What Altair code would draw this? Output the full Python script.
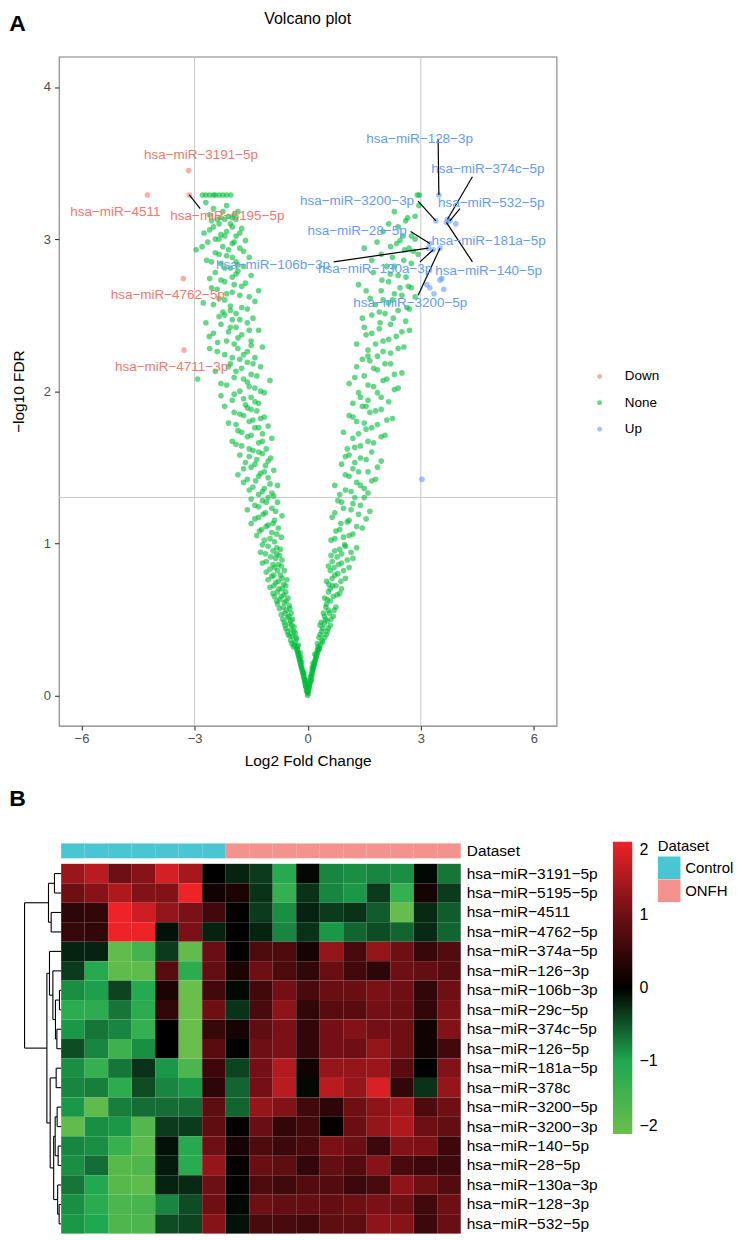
import altair as alt
import pandas as pd

MINUS = "\u2212"


def disp(s):
    return s.replace("-", MINUS)


# ------------------------------------------------------------------
# A. Volcano plot data (log2 fold change, -log10 FDR)
# ------------------------------------------------------------------
none_points = [
    (0.00, 0.00), (0.01, 0.01), (-0.01, 0.02), (0.02, 0.03), (-0.03, 0.03), (0.03, 0.05), (-0.04, 0.05),
    (0.05, 0.06), (-0.06, 0.07), (0.06, 0.08), (-0.07, 0.09), (0.08, 0.10), (-0.09, 0.11), (0.09, 0.12),
    (-0.11, 0.12), (0.11, 0.13), (-0.12, 0.14), (0.13, 0.15), (-0.14, 0.16), (0.14, 0.17), (-0.16, 0.18),
    (0.16, 0.19), (-0.18, 0.20), (0.18, 0.21), (-0.20, 0.22), (0.20, 0.23), (-0.22, 0.24), (0.23, 0.25),
    (-0.24, 0.26), (0.25, 0.27), (-0.26, 0.28), (0.27, 0.29), (-0.18, 0.25), (0.19, 0.27), (-0.10, 0.15),
    (0.12, 0.18), (-0.28, 0.30), (0.30, 0.30), (-0.05, 0.10), (0.07, 0.12),
    (-0.30, 0.31), (-0.38, 0.32), (-0.25, 0.33), (-0.34, 0.35), (-0.45, 0.36), (-0.29, 0.37), (-0.40, 0.39),
    (-0.52, 0.40), (-0.33, 0.41), (-0.44, 0.43), (-0.58, 0.44), (-0.36, 0.45), (-0.48, 0.47), (-0.62, 0.48),
    (-0.40, 0.50), (-0.53, 0.51), (-0.70, 0.53), (-0.44, 0.54), (-0.57, 0.56), (-0.75, 0.57), (-0.49, 0.59),
    (0.31, 0.31), (0.26, 0.34), (0.38, 0.36), (0.45, 0.38), (0.33, 0.40), (0.52, 0.42), (0.40, 0.44),
    (0.60, 0.46), (0.36, 0.48), (0.47, 0.50), (0.68, 0.52), (0.42, 0.54), (0.55, 0.56), (0.75, 0.58),
    (0.50, 0.60),
    (-0.62, 0.61), (-0.82, 0.62), (-0.52, 0.64), (-0.70, 0.65), (-0.92, 0.67), (-0.58, 0.68), (-0.76, 0.70),
    (-1.00, 0.71), (-0.64, 0.73), (-0.85, 0.74), (-0.55, 0.76), (-0.95, 0.78), (-0.72, 0.79), (-1.10, 0.81),
    (-0.62, 0.82), (-0.88, 0.84), (-0.78, 0.86), (-1.20, 0.87), (-0.68, 0.89), (-0.98, 0.91), (-0.82, 0.93),
    (-1.25, 0.94), (-0.72, 0.96), (-1.05, 0.98),
    (0.60, 0.62), (0.45, 0.64), (0.78, 0.66), (0.55, 0.68), (0.90, 0.70), (0.66, 0.72), (0.50, 0.75),
    (1.00, 0.77), (0.72, 0.79), (0.60, 0.82), (1.10, 0.84), (0.82, 0.86), (0.65, 0.88), (1.20, 0.90),
    (0.90, 0.93), (0.72, 0.95), (1.30, 0.97), (0.98, 0.99),
    (-0.88, 1.01), (-1.15, 1.02), (-0.70, 1.04), (-1.35, 1.05), (-0.95, 1.07), (-1.22, 1.09), (-0.78, 1.10),
    (-1.05, 1.12), (-1.50, 1.13), (-0.88, 1.15), (-1.30, 1.17), (-0.68, 1.18), (-1.12, 1.20), (-1.60, 1.22),
    (-0.95, 1.23), (-1.40, 1.25), (-0.80, 1.27), (-1.20, 1.28), (-1.05, 1.30),
    (0.62, 1.02), (0.95, 1.04), (1.20, 1.06), (0.75, 1.08), (1.45, 1.10), (0.88, 1.13), (1.10, 1.15),
    (0.65, 1.17), (1.35, 1.19), (1.65, 1.21), (0.95, 1.23), (1.20, 1.26), (0.80, 1.28), (1.50, 1.30),
    (-1.30, 1.32), (-0.95, 1.33), (-1.55, 1.35), (-1.15, 1.36), (-0.80, 1.38), (-1.70, 1.40), (-1.38, 1.41),
    (-1.05, 1.43), (-1.85, 1.45), (-1.25, 1.46), (-0.90, 1.48), (-1.50, 1.50), (-1.12, 1.51), (-1.65, 1.53),
    (-1.35, 1.55), (-0.98, 1.56), (-1.80, 1.58), (-1.20, 1.59),
    (0.85, 1.32), (1.15, 1.34), (1.50, 1.36), (0.72, 1.38), (1.30, 1.40), (1.80, 1.42), (1.00, 1.45),
    (1.60, 1.47), (1.20, 1.49), (0.90, 1.52), (1.95, 1.54), (1.40, 1.56), (1.10, 1.58), (1.70, 1.60),
    (-1.45, 1.61), (-1.10, 1.62), (-1.75, 1.64), (-1.30, 1.66), (-2.00, 1.67), (-0.95, 1.69), (-1.60, 1.70),
    (-1.20, 1.72), (-1.85, 1.74), (-1.40, 1.76), (-1.05, 1.77), (-2.10, 1.79), (-1.55, 1.80), (-1.25, 1.82),
    (-1.70, 1.84), (-1.95, 1.86), (-1.35, 1.87), (-1.60, 1.89),
    (1.05, 1.62), (1.40, 1.64), (1.75, 1.66), (1.20, 1.69), (2.05, 1.71), (0.95, 1.73), (1.55, 1.75),
    (1.85, 1.78), (1.30, 1.80), (2.25, 1.82), (1.10, 1.84), (1.65, 1.86), (1.95, 1.88), (1.45, 1.90),
    (-1.65, 1.91), (-1.30, 1.92), (-2.00, 1.94), (-1.50, 1.96), (-2.30, 1.97), (-1.15, 1.99), (-1.80, 2.00),
    (-1.40, 2.02), (-2.15, 2.04), (-1.60, 2.06), (-1.00, 2.07), (-1.95, 2.09), (-2.92, 2.08), (-1.50, 2.11),
    (-2.45, 2.13), (-1.75, 2.15), (-1.25, 2.16), (-2.05, 2.18), (-1.60, 2.19),
    (1.20, 1.92), (1.60, 1.94), (1.95, 1.96), (1.35, 1.99), (2.30, 2.01), (1.75, 2.03), (1.10, 2.05),
    (2.10, 2.08), (1.50, 2.10), (2.50, 2.12), (1.85, 2.14), (1.30, 2.16), (2.20, 2.18), (1.65, 2.20),
    (-1.80, 2.21), (-1.40, 2.22), (-2.20, 2.24), (-1.60, 2.26), (-2.60, 2.28), (-1.20, 2.29), (-1.95, 2.31),
    (-2.39, 2.32), (-1.50, 2.33), (-2.61, 2.36), (-1.75, 2.37), (-2.10, 2.39), (-1.30, 2.40), (-1.90, 2.42),
    (-2.30, 2.44), (-1.60, 2.45), (-2.00, 2.47), (-1.45, 2.48), (-2.20, 2.50),
    (1.45, 2.21), (1.85, 2.23), (2.20, 2.25), (1.60, 2.27), (2.55, 2.29), (1.30, 2.31), (2.00, 2.33),
    (2.35, 2.36), (1.70, 2.38), (2.70, 2.40), (1.50, 2.42), (1.92, 2.45), (2.27, 2.48), (1.70, 2.50),
    (-1.90, 2.51), (-2.25, 2.52), (-1.60, 2.54), (-2.05, 2.56), (-2.77, 2.58), (-1.40, 2.59), (-2.35, 2.61),
    (-1.80, 2.63), (-2.15, 2.64), (-1.30, 2.66), (-2.55, 2.68), (-1.95, 2.70), (-1.65, 2.71), (-2.30, 2.73),
    (-2.00, 2.75), (-1.50, 2.76), (-2.45, 2.78), (-1.85, 2.79),
    (2.14, 2.58), (1.66, 2.61), (2.63, 2.55), (1.90, 2.52), (2.40, 2.53), (1.35, 2.70), (1.74, 2.78),
    (1.97, 2.73), (2.19, 2.77), (2.61, 2.75), (2.45, 2.68), (2.67, 2.69), (2.85, 2.62), (1.55, 2.66),
    (2.30, 2.64), (2.00, 2.60),
    (-2.05, 2.81), (-1.70, 2.82), (-2.30, 2.84), (-1.90, 2.85), (-2.68, 2.86), (-1.55, 2.88), (-2.15, 2.89),
    (-2.45, 2.91), (-2.96, 2.93), (-1.80, 2.94), (-2.25, 2.95), (-2.00, 2.97), (-2.65, 2.98), (-1.65, 2.99),
    (-2.35, 3.00), (-1.90, 3.02), (-2.75, 3.04), (-2.15, 3.05), (-1.75, 3.07), (-2.50, 3.08), (-2.05, 3.10),
    (1.84, 2.98), (2.36, 2.97), (1.50, 2.94), (2.57, 2.93), (2.69, 2.94), (2.53, 3.02), (2.93, 2.90),
    (2.10, 2.82), (2.75, 2.84), (1.70, 2.86), (2.25, 2.88), (2.85, 3.00), (2.00, 3.05), (2.40, 3.08),
    (-2.40, 3.13), (-2.30, 3.14), (-2.20, 3.13), (-2.10, 3.15), (-2.00, 3.14), (-1.90, 3.13), (-2.60, 3.16),
    (-1.85, 3.18), (-2.50, 3.20), (-2.15, 3.22), (-2.70, 3.24), (-2.30, 3.03),
    (-2.79, 3.29), (-2.70, 3.29), (-2.60, 3.29), (-2.50, 3.29), (-2.45, 3.29), (-2.35, 3.29), (-2.25, 3.29),
    (-2.15, 3.29), (-2.04, 3.29),
    (2.60, 3.12), (2.85, 3.15), (2.30, 3.18), (2.95, 3.22), (2.91, 3.29), (2.96, 3.29),
]
# further non-significant miRNAs read from the denser parts of the cloud
none_points_more = [
    (0.00, 0.02), (-0.02, 0.04), (0.03, 0.04), (-0.05, 0.06), (0.04, 0.07), (-0.07, 0.08), (0.07, 0.09),
    (-0.08, 0.10), (0.10, 0.10), (-0.10, 0.13), (0.10, 0.14), (-0.13, 0.15), (0.12, 0.16), (-0.15, 0.17),
    (0.15, 0.18), (-0.17, 0.19), (0.17, 0.20), (-0.19, 0.21), (0.19, 0.22), (-0.21, 0.23), (0.21, 0.24),
    (-0.23, 0.25), (0.22, 0.26), (-0.25, 0.27), (0.24, 0.28), (-0.27, 0.29), (0.26, 0.30), (-0.16, 0.22),
    (0.14, 0.21), (-0.20, 0.28),
    (-0.27, 0.32), (-0.35, 0.33), (-0.42, 0.34), (-0.31, 0.38), (-0.47, 0.39), (-0.37, 0.42), (-0.54, 0.42),
    (-0.42, 0.46), (-0.60, 0.46), (-0.45, 0.49), (-0.66, 0.50), (-0.50, 0.52), (-0.60, 0.54), (-0.47, 0.57),
    (-0.65, 0.58), (-0.80, 0.60),
    (0.28, 0.32), (0.34, 0.33), (0.40, 0.35), (0.30, 0.38), (0.49, 0.40), (0.37, 0.42), (0.55, 0.44),
    (0.44, 0.47), (0.33, 0.46), (0.52, 0.49), (0.62, 0.50), (0.45, 0.52), (0.58, 0.54), (0.70, 0.56),
    (0.48, 0.58),
    (-0.57, 0.62), (-0.74, 0.63), (-0.88, 0.65), (-0.63, 0.66), (-0.80, 0.68), (-0.68, 0.70), (-0.90, 0.72),
    (-0.58, 0.72), (-0.78, 0.75), (-1.05, 0.76), (-0.68, 0.77), (-0.90, 0.79), (-0.80, 0.82), (-1.00, 0.83),
    (-0.70, 0.85), (-0.92, 0.86), (-1.10, 0.88), (-0.85, 0.90), (-0.75, 0.92), (-1.12, 0.93), (-0.92, 0.95),
    (-0.82, 0.97), (-1.20, 0.99),
    (0.52, 0.63), (0.68, 0.65), (0.85, 0.67), (0.60, 0.70), (0.75, 0.72), (0.56, 0.73), (0.88, 0.75),
    (0.65, 0.77), (0.80, 0.80), (0.95, 0.82), (0.70, 0.84), (0.55, 0.85), (0.90, 0.87), (1.05, 0.89),
    (0.78, 0.91), (0.62, 0.92), (1.15, 0.94), (0.85, 0.96), (1.00, 0.98),
    (-1.00, 1.03), (-0.82, 1.06), (-1.28, 1.08), (-1.10, 1.11), (-0.92, 1.13), (-1.40, 1.16), (-1.18, 1.19),
    (-0.85, 1.21), (-1.30, 1.24), (-1.10, 1.27), (-1.50, 1.29), (-0.90, 1.31), (-1.20, 1.34), (-1.45, 1.37),
    (-1.00, 1.39), (-1.60, 1.42), (-1.30, 1.44), (-1.15, 1.47), (-1.70, 1.49), (-1.40, 1.52), (-1.05, 1.54),
    (-1.55, 1.57), (-1.30, 1.60),
    (0.72, 1.03), (1.10, 1.05), (0.85, 1.09), (1.30, 1.11), (1.05, 1.14), (1.55, 1.16), (0.72, 1.20),
    (1.15, 1.22), (1.40, 1.25), (0.90, 1.27), (1.25, 1.30), (1.60, 1.33), (1.00, 1.35), (1.40, 1.38),
    (1.70, 1.41), (1.10, 1.44), (1.35, 1.47), (1.85, 1.50), (1.25, 1.53), (1.55, 1.55), (1.00, 1.57),
    (-1.55, 1.62), (-1.90, 1.65), (-1.20, 1.67), (-1.50, 1.71), (-1.75, 1.73), (-1.30, 1.76), (-1.90, 1.78),
    (-1.45, 1.81), (-1.15, 1.83), (-1.80, 1.85), (-1.50, 1.88), (-2.20, 1.90), (-1.40, 1.93), (-1.70, 1.95),
    (-1.95, 1.98), (-1.25, 2.00), (-1.55, 2.03), (-2.30, 2.05), (-1.70, 2.08), (-1.35, 2.10), (-1.90, 2.13),
    (-2.10, 2.16), (-1.45, 2.18),
    (1.25, 1.63), (1.60, 1.67), (1.95, 1.70), (1.35, 1.72), (1.70, 1.76), (1.50, 1.79), (2.10, 1.81),
    (1.20, 1.83), (1.80, 1.87), (1.55, 1.90), (2.15, 1.93), (1.40, 1.96), (1.85, 1.99), (2.40, 2.02),
    (1.60, 2.04), (2.00, 2.07), (1.25, 2.09), (2.30, 2.11), (1.75, 2.15), (2.05, 2.18),
    (-2.00, 2.22), (-1.70, 2.24), (-2.40, 2.26), (-1.85, 2.28), (-1.50, 2.30), (-2.15, 2.33), (-1.85, 2.35),
    (-2.50, 2.38), (-1.55, 2.40), (-2.05, 2.42), (-2.70, 2.45), (-1.80, 2.47), (-2.35, 2.49), (-2.05, 2.53),
    (-1.75, 2.55), (-2.50, 2.57), (-2.20, 2.60), (-1.55, 2.62), (-2.00, 2.65), (-2.40, 2.67), (-1.75, 2.69),
    (-2.20, 2.72), (-2.60, 2.74), (-1.90, 2.77),
    (1.60, 2.23), (2.00, 2.26), (2.40, 2.28), (1.80, 2.31), (2.15, 2.34), (1.55, 2.37), (2.50, 2.39),
    (1.90, 2.41), (2.20, 2.44), (2.60, 2.46), (1.45, 2.48), (2.05, 2.51), (2.70, 2.54), (1.80, 2.57),
    (2.25, 2.60), (2.50, 2.63), (1.95, 2.66), (2.75, 2.68), (2.15, 2.72), (2.40, 2.76),
    (-2.20, 2.81), (-1.85, 2.83), (-2.55, 2.85), (-2.00, 2.88), (-2.35, 2.90), (-1.70, 2.92), (-2.10, 2.93),
    (-2.80, 2.95), (-1.95, 2.98), (-2.45, 3.00), (-2.20, 3.02), (-1.80, 3.04), (-2.60, 3.06), (-2.00, 3.08),
    (-2.35, 3.10), (-2.55, 3.12), (-1.95, 3.16), (-2.25, 3.18),
    (2.30, 2.82), (2.55, 2.86), (1.95, 2.90), (2.80, 2.92), (2.20, 2.95), (2.45, 2.99), (2.75, 3.02),
    (2.15, 3.10), (2.65, 3.14),
]

# labelled significant miRNAs
lab_genes = ["hsa-miR-3191-5p", "hsa-miR-4511", "hsa-miR-5195-5p", "hsa-miR-4762-5p", "hsa-miR-4711-3p",
             "hsa-miR-128-3p", "hsa-miR-374c-5p", "hsa-miR-532-5p", "hsa-miR-3200-3p", "hsa-miR-28-5p",
             "hsa-miR-181a-5p", "hsa-miR-140-5p", "hsa-miR-106b-3p", "hsa-miR-130a-3p", "hsa-miR-3200-5p"]
lab_group = ["Down"] * 5 + ["Up"] * 10
lab_x = [-3.16, -4.25, -3.14, -3.30, -3.28, 3.48, 3.71, 3.77, 3.40, 3.24, 3.93, 3.68, 3.20, 3.33, 3.51]
lab_y = [3.45, 3.29, 3.29, 2.74, 2.27, 3.29, 3.13, 3.12, 3.12, 2.97, 3.10, 3.11, 2.94, 2.93, 2.94]
# repelled label anchors (data units)
txt_x = [-2.83, -5.10, -2.13, -3.71, -3.61, 2.97, 4.78, 4.87, 1.31, 1.31, 4.80, 4.80, -0.92, 1.79, 2.72]
txt_y = [3.55, 3.18, 3.15, 2.63, 2.16, 3.66, 3.46, 3.24, 3.25, 3.05, 2.99, 2.79, 2.83, 2.80, 2.58]
# connector ends (None = no connector)
seg_x = [None, None, -2.85, None, None, 3.46, 4.37, 4.04, 2.93, 2.73, None, 4.37, 0.69, 2.98, 2.93]
seg_y = [None, None, 3.20, None, None, 3.66, 3.41, 3.20, 3.25, 3.05, None, 2.85, 2.85, 2.85, 2.63]

# other up-regulated, unlabelled
up_x = [3.16, 3.24, 3.35, 3.51, 3.61, 3.56, 3.03]
up_y = [2.70, 2.68, 2.64, 2.73, 2.67, 2.74, 1.42]

groups = ["Down", "None", "Up"]
group_colors = ["#F8766D", "#00BA38", "#619CFF"]
fc_cut = [-3, 3]
fdr_cut = [1.301]

# ------------------------------------------------------------------
# B. Heatmap data
# ------------------------------------------------------------------
row_genes = ["hsa-miR-3191-5p", "hsa-miR-5195-5p", "hsa-miR-4511", "hsa-miR-4762-5p", "hsa-miR-374a-5p",
             "hsa-miR-126-3p", "hsa-miR-106b-3p", "hsa-miR-29c-5p", "hsa-miR-374c-5p", "hsa-miR-126-5p",
             "hsa-miR-181a-5p", "hsa-miR-378c", "hsa-miR-3200-5p", "hsa-miR-3200-3p", "hsa-miR-140-5p",
             "hsa-miR-28-5p", "hsa-miR-130a-3p", "hsa-miR-128-3p", "hsa-miR-532-5p"]
sample_group = ["Control"] * 7 + ["ONFH"] * 10
z = [
    [1.35, 1.6, 1.0, 1.2, 1.8, 1.45, 0.0, -0.2, -0.35, -1.1, -0.05, -0.8, -0.85, -0.8, -0.85, -0.05, -0.7],
    [1.0, 1.2, 1.5, 1.15, 1.15, 2.0, 0.15, 0.25, -0.3, -1.3, -0.3, -0.8, -0.9, -0.35, -1.3, 0.2, -0.35],
    [0.4, 0.45, 2.0, 1.75, 1.3, 1.1, 0.6, 0.0, -0.35, -0.85, -0.2, -0.35, -0.3, -0.55, -1.95, -0.25, -0.55],
    [0.5, 0.45, 2.0, 2.0, -0.1, 1.1, -0.2, 0.0, -0.2, -0.8, -0.3, -0.9, -0.6, -0.45, -0.6, -0.25, -0.6],
    [-0.2, -0.2, -1.9, -1.5, -0.35, -1.9, 0.95, 0.0, 0.7, 0.7, 0.2, 1.3, 0.65, 1.3, 1.0, 0.5, 0.75],
    [-0.35, -1.1, -1.85, -1.85, 0.8, -1.2, 0.9, 0.25, 1.0, 0.7, 0.45, 0.95, 0.6, 0.4, 1.0, 0.9, 0.8],
    [-0.85, -0.95, -0.4, -1.1, 0.25, -2.0, 0.6, -0.05, 0.6, 1.05, 0.65, 0.95, 0.95, 1.1, 1.0, 0.45, 1.0],
    [-1.2, -1.2, -0.7, -1.2, 0.45, -2.0, 1.0, -0.3, 0.65, 1.25, 0.45, 0.8, 0.8, 1.05, 0.95, 0.45, 1.1],
    [-0.9, -0.7, -0.8, -1.3, 0.0, -2.0, 0.5, 0.2, 0.85, 1.1, 0.45, 1.05, 1.15, 1.05, 1.0, 0.15, 1.15],
    [-0.45, -0.8, -1.4, -0.85, 0.0, -2.0, 0.8, 0.0, 1.0, 1.1, 0.45, 1.05, 1.0, 1.3, 1.0, 0.15, 0.6],
    [-0.85, -1.3, -0.7, -0.3, -0.9, -1.6, 0.55, -0.4, 1.05, 1.55, 0.15, 1.3, 1.3, 1.35, 0.8, 0.0, 1.15],
    [-0.8, -0.75, -1.2, -0.45, -0.8, -0.9, 0.4, -0.6, 1.05, 1.6, -0.05, 1.6, 1.3, 1.85, 0.45, -0.3, 1.3],
    [-0.9, -1.85, -0.75, -0.65, -0.65, -0.65, 0.85, -0.6, 1.3, 1.15, 0.6, 0.4, 1.0, 1.25, 1.4, 0.7, 1.0],
    [-1.9, -0.85, -0.9, -1.7, -0.35, -0.35, 0.85, 0.05, 0.95, 0.45, 0.6, 0.05, 0.95, 1.3, 1.5, 1.0, 0.9],
    [-0.8, -0.85, -1.35, -1.8, -0.1, -1.1, 1.0, 0.2, 0.7, 0.55, 0.65, 1.1, 0.95, 0.55, 1.15, 1.1, 0.55],
    [-0.85, -0.65, -1.75, -1.65, -0.15, -1.15, 1.3, 0.05, 0.95, 0.85, 0.45, 0.9, 0.75, 1.2, 0.65, 0.55, 0.55],
    [-0.7, -1.05, -1.75, -1.85, -0.2, -0.25, 1.0, 0.0, 0.7, 0.6, 0.75, 0.75, 0.55, 0.65, 1.25, 1.0, 0.75],
    [-0.85, -1.15, -1.6, -1.55, -0.8, -0.45, 1.0, -0.05, 1.0, 0.9, 0.9, 0.9, 1.0, 1.1, 1.0, 0.6, 1.0],
    [-0.9, -1.0, -1.65, -1.6, -0.45, -0.4, 1.2, -0.1, 0.65, 0.65, 0.6, 0.85, 0.85, 1.25, 1.2, 0.55, 0.95],
]
heat_breaks = [-2, -1, 0, 1, 2]
heat_colors = ["#6ABE4B", "#1EA850", "#000000", "#6E0F14", "#ED2328"]
dataset_names = ["Control", "ONFH"]
dataset_colors = ["#4AC6D2", "#F4928D"]

# row dendrogram: (left, right, height); ints = leaves, "nK" = K-th merge
merges = [
    (0, 1, 6.7), (2, 3, 10.0), ("n0", "n1", 12.7),
    (6, 7, 1.7), (8, 9, 4.3), ("n3", "n4", 5.7), (5, "n5", 8.3), (4, "n6", 11.7),
    (10, 11, 5.0), (12, 13, 4.0), (14, 15, 3.0), ("n9", "n10", 6.0), (17, 18, 2.0), (16, "n12", 3.5),
    ("n11", "n13", 7.5), ("n8", "n14", 11.0), ("n7", "n15", 14.3), ("n2", "n16", 36.7),
]

FONT = "Liberation Sans"

# ------------------------------------------------------------------
# Volcano chart
# ------------------------------------------------------------------
pts = [{"x": x, "y": y, "group": "None"} for x, y in none_points + none_points_more]
pts += [{"x": x, "y": y, "group": g} for x, y, g in zip(lab_x, lab_y, lab_group)]
pts += [{"x": x, "y": y, "group": "Up"} for x, y in zip(up_x, up_y)]
pts_df = pd.DataFrame(pts)

col_of = dict(zip(groups, group_colors))
lab_df = pd.DataFrame({"x": txt_x, "y": txt_y, "text": [disp(g) for g in lab_genes],
                       "col": [col_of[g] for g in lab_group]})
seg_df = pd.DataFrame([{"x": a, "y": b, "x2": c, "y2": d}
                       for a, b, c, d in zip(lab_x, lab_y, seg_x, seg_y) if c is not None])

xs = alt.Scale(domain=[-6.6, 6.6], nice=False, zero=False)
ys = alt.Scale(domain=[-0.2, 4.2], nice=False, zero=False)
x_axis = alt.Axis(values=[-6, -3, 0, 3, 6], grid=False, domain=False, tickSize=4.4, tickColor="#333333",
                  tickWidth=1.1, labelColor="#4D4D4D", labelFontSize=13, labelPadding=2.5,
                  title="Log2 Fold Change", titleFontSize=15.5, titleFontWeight="normal",
                  titleColor="#000000", titlePadding=8)
y_axis = alt.Axis(values=[0, 1, 2, 3, 4], grid=False, domain=False, tickSize=4.4, tickColor="#333333",
                  tickWidth=1.1, labelColor="#4D4D4D", labelFontSize=13, labelPadding=4,
                  title=MINUS + "log10 FDR", titleFontSize=15.5, titleFontWeight="normal",
                  titleColor="#000000", titlePadding=17)
X = alt.X("x:Q", scale=xs, axis=x_axis)
Y = alt.Y("y:Q", scale=ys, axis=y_axis)

vlines = alt.Chart(pd.DataFrame({"x": fc_cut})).mark_rule(color="#C8C8C8", strokeWidth=1).encode(x=X)
hline = alt.Chart(pd.DataFrame({"y": fdr_cut})).mark_rule(color="#C8C8C8", strokeWidth=1).encode(y=Y)

points = alt.Chart(pts_df).mark_circle(size=32, opacity=0.6).encode(
    x=X, y=Y,
    color=alt.Color("group:N", scale=alt.Scale(domain=groups, range=group_colors),
                    legend=alt.Legend(orient="none", legendX=535.5, legendY=314.0, title=None,
                                      labelFontSize=13.5, labelColor="#000000", symbolType="circle",
                                      symbolSize=25, symbolOpacity=0.6, symbolStrokeWidth=0,
                                      rowPadding=11.5, labelOffset=18.5, padding=0)),
)
segs = alt.Chart(seg_df).mark_rule(color="#000000", strokeWidth=1.2).encode(
    x=X, y=Y, x2="x2:Q", y2="y2:Q")
labels = alt.Chart(lab_df).mark_text(fontSize=13.5, baseline="middle", align="center").encode(
    x=X, y=Y, text="text:N", color=alt.Color("col:N", scale=None))

letter_a = alt.Chart(pd.DataFrame({"t": ["A"]})).mark_text(
    fontSize=23, fontWeight="bold", align="left", baseline="middle", color="#000000").encode(
    text="t:N", x=alt.value(-49.7), y=alt.value(-32.7))
title_a = alt.Chart(pd.DataFrame({"t": ["Volcano plot"]})).mark_text(
    fontSize=16, align="center", baseline="middle", color="#000000").encode(
    text="t:N", x=alt.value(249.5), y=alt.value(-37.5))

volcano = alt.layer(vlines, hline, points, segs, labels, letter_a, title_a).properties(
    width=499, height=671, view=alt.ViewBackground(stroke="#7F7F7F", strokeWidth=1.1))

# ------------------------------------------------------------------
# Heatmap chart
# ------------------------------------------------------------------
cells = []
for i, row in enumerate(z):
    for j, v in enumerate(row):
        cells.append({"c0": j, "c1": j + 1, "r0": i, "r1": i + 1, "value": v})
cell_df = pd.DataFrame(cells)
ann_df = pd.DataFrame({"c0": list(range(len(sample_group))),
                       "c1": [j + 1 for j in range(len(sample_group))],
                       "dataset": sample_group})
row_df = pd.DataFrame({"gene": [disp(g) for g in row_genes], "rm": [i + 0.5 for i in range(len(row_genes))]})

# dendrogram segments from the merge table
pos, hgt, segs_d = {}, {}, []
for i in range(len(row_genes)):
    pos[i], hgt[i] = i + 0.5, 0.0
for k, (a, b, h) in enumerate(merges):
    ya, yb = pos[a], pos[b]
    segs_d.append({"h1": h, "h2": h, "y1": ya, "y2": yb})
    segs_d.append({"h1": hgt[a], "h2": h, "y1": ya, "y2": ya})
    segs_d.append({"h1": hgt[b], "h2": h, "y1": yb, "y2": yb})
    pos["n%d" % k] = (ya + yb) / 2
    hgt["n%d" % k] = h
dend_df = pd.DataFrame(segs_d)

hx = alt.Scale(domain=[-0.0976, 17], nice=False, zero=False)
hy = alt.Scale(domain=[-1.05, 19], reverse=True, nice=False, zero=False)

heat = alt.Chart(cell_df).mark_rect(strokeWidth=0).encode(
    x=alt.X("c0:Q", scale=hx, axis=None), x2="c1:Q",
    y=alt.Y("r0:Q", scale=hy, axis=None), y2="r1:Q",
    color=alt.Color("value:Q",
                    scale=alt.Scale(domain=heat_breaks, range=heat_colors, interpolate="rgb"),
                    legend=alt.Legend(orient="none", legendX=555.6, legendY=-1.7, direction="vertical",
                                      gradientLength=293, gradientThickness=19.4, gradientStrokeWidth=0,
                                      title=None, values=heat_breaks, labelFontSize=16,
                                      labelColor="#000000", labelOffset=7.3, padding=0)),
)
ann = alt.Chart(ann_df).mark_rect(strokeWidth=0).encode(
    x=alt.X("c0:Q", scale=hx, axis=None), x2="c1:Q",
    y=alt.value(0), y2=alt.value(15),
    fill=alt.Fill("dataset:N", scale=alt.Scale(domain=dataset_names, range=dataset_colors),
                  legend=alt.Legend(orient="none", legendX=600.5, legendY=-4, title="Dataset",
                                    titleFontSize=15, titleFontWeight="normal", titleColor="#000000",
                                    labelFontSize=15, labelColor="#000000", symbolType="square",
                                    symbolSize=515, symbolStrokeWidth=0, rowPadding=0, labelOffset=4.5,
                                    titlePadding=2, padding=0)),
)
row_text = alt.Chart(row_df).mark_text(fontSize=15.5, align="left", baseline="middle",
                                       color="#000000").encode(
    x=alt.value(409), y=alt.Y("rm:Q", scale=hy, axis=None), text="gene:N")
ds_text = alt.Chart(pd.DataFrame({"t": ["Dataset"]})).mark_text(
    fontSize=15.5, align="left", baseline="middle", color="#000000").encode(
    text="t:N", x=alt.value(409), y=alt.value(7.5))
letter_b = alt.Chart(pd.DataFrame({"t": ["B"]})).mark_text(
    fontSize=23, fontWeight="bold", align="left", baseline="middle", color="#000000").encode(
    text="t:N", x=alt.value(-49.7), y=alt.value(-44.2))

inner = alt.layer(ann, heat, row_text, ds_text, letter_b)

dendro = alt.Chart(dend_df).mark_rule(color="#000000", strokeWidth=1.1).encode(
    x=alt.X("h1:Q", scale=alt.Scale(domain=[-400.7, 2.3], reverse=True, nice=False, zero=False), axis=None),
    x2="h2:Q",
    y=alt.Y("y1:Q", scale=hy, axis=None), y2="y2:Q",
)

heatmap = alt.layer(dendro, inner).resolve_scale(x="independent").properties(width=403, height=391.3)

chart = alt.vconcat(volcano, heatmap, spacing=118, bounds="flush").resolve_scale(
    color="independent", fill="independent"
).resolve_legend(color="independent", fill="independent").properties(
    padding=0
).configure(font=FONT).configure_view(strokeWidth=0)

chart.save("out.html", embed_options={"renderer": "svg", "actions": False})
